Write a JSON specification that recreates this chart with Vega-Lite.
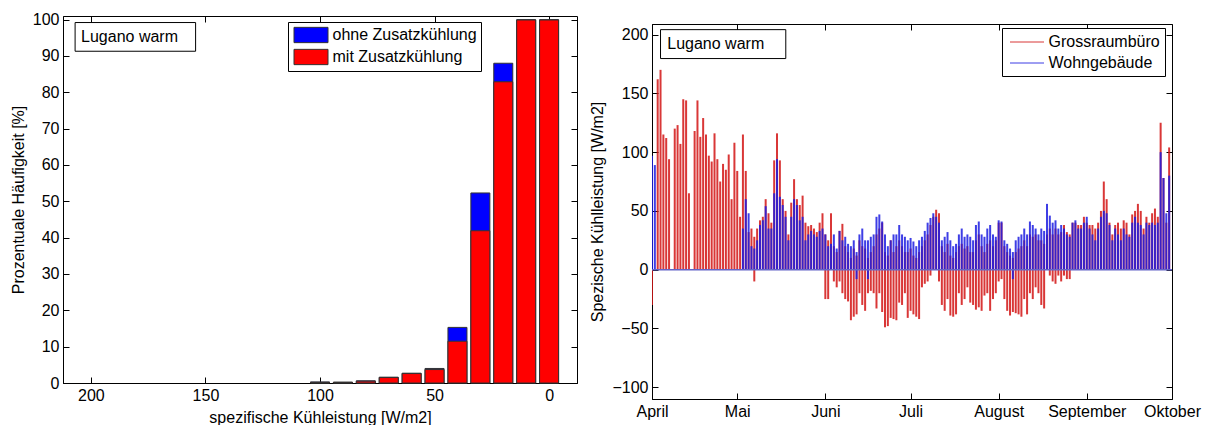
{
"$schema":"https://vega.github.io/schema/vega-lite/v6.json",
"background":"white",
"padding":{"left":9,"top":11,"right":5,"bottom":2},
"spacing":11,
"resolve":{"scale":{"color":"independent"},"legend":{"color":"independent"}},
"config":{
 "font":"Liberation Sans",
 "view":{"stroke":"#000","strokeWidth":1},
 "axis":{"grid":false,"domainColor":"#000","tickColor":"#000","labelColor":"#000","titleColor":"#000","labelFontSize":16,"titleFontSize":16,"titleFontWeight":"normal","tickSize":-6,"labelPadding":10,"labelFlush":false,"labelOverlap":false,"titlePadding":6},
 "legend":{"labelFontSize":16,"labelColor":"#000"}
},
"hconcat":[
{
 "width":514,"height":367,
 "resolve":{"axis":{"x":"independent","y":"independent"}},
 "data":{"values":[
  {"kuehlleistung":0,"variante":"ohne Zusatzkühlung","haeufigkeit":100},
  {"kuehlleistung":10,"variante":"ohne Zusatzkühlung","haeufigkeit":100},
  {"kuehlleistung":20,"variante":"ohne Zusatzkühlung","haeufigkeit":88.0},
  {"kuehlleistung":30,"variante":"ohne Zusatzkühlung","haeufigkeit":52.3},
  {"kuehlleistung":40,"variante":"ohne Zusatzkühlung","haeufigkeit":15.3},
  {"kuehlleistung":50,"variante":"ohne Zusatzkühlung","haeufigkeit":4.0},
  {"kuehlleistung":60,"variante":"ohne Zusatzkühlung","haeufigkeit":2.7},
  {"kuehlleistung":70,"variante":"ohne Zusatzkühlung","haeufigkeit":1.6},
  {"kuehlleistung":80,"variante":"ohne Zusatzkühlung","haeufigkeit":0.6},
  {"kuehlleistung":90,"variante":"ohne Zusatzkühlung","haeufigkeit":0.25},
  {"kuehlleistung":100,"variante":"ohne Zusatzkühlung","haeufigkeit":0.3},
  {"kuehlleistung":0,"variante":"mit Zusatzkühlung","haeufigkeit":99.9},
  {"kuehlleistung":10,"variante":"mit Zusatzkühlung","haeufigkeit":99.9},
  {"kuehlleistung":20,"variante":"mit Zusatzkühlung","haeufigkeit":82.9},
  {"kuehlleistung":30,"variante":"mit Zusatzkühlung","haeufigkeit":41.9},
  {"kuehlleistung":40,"variante":"mit Zusatzkühlung","haeufigkeit":11.5},
  {"kuehlleistung":50,"variante":"mit Zusatzkühlung","haeufigkeit":3.7},
  {"kuehlleistung":60,"variante":"mit Zusatzkühlung","haeufigkeit":2.6},
  {"kuehlleistung":70,"variante":"mit Zusatzkühlung","haeufigkeit":1.5},
  {"kuehlleistung":80,"variante":"mit Zusatzkühlung","haeufigkeit":0.5},
  {"kuehlleistung":90,"variante":"mit Zusatzkühlung","haeufigkeit":0.15},
  {"kuehlleistung":100,"variante":"mit Zusatzkühlung","haeufigkeit":0.15}
 ]},
 "layer":[
  {"mark":{"type":"bar","orient":"vertical","width":19,"stroke":"#333333","strokeWidth":1},
   "encoding":{
    "x":{"field":"kuehlleistung","type":"quantitative","scale":{"domain":[-10,210],"reverse":true,"nice":false,"zero":false},"axis":{"values":[0,50,100,150,200],"tickCount":12,"title":"spezifische Kühleistung [W/m2]"}},
    "y":{"field":"haeufigkeit","type":"quantitative","stack":null,"scale":{"domain":[0,101],"nice":false},"axis":{"values":[0,10,20,30,40,50,60,70,80,90,100],"tickCount":12,"title":"Prozentuale Häufigkeit [%]"}},
    "color":{"field":"variante","type":"nominal","scale":{"domain":["ohne Zusatzkühlung","mit Zusatzkühlung"],"range":["#0000ff","#ff0000"]},
     "legend":{"title":null,"orient":"none","legendX":225,"legendY":6,"strokeColor":"#000","fillColor":"#fff","padding":4,"symbolType":"M-2,-0.9H2V0.9H-2Z","symbolSize":289,"symbolOffset":10,"symbolStrokeColor":"#333","symbolStrokeWidth":1,"symbolOpacity":1,"labelFontSize":16,"labelOffset":12.5,"rowPadding":2}}
   }},
  {"data":{"values":[{"ort":"Lugano warm"}]},
   "layer":[
    {"mark":{"type":"rect","fill":"#fff","stroke":"#000","strokeWidth":1},
     "encoding":{
      "x":{"datum":206.9,"type":"quantitative","axis":{"orient":"top","labels":false,"title":null,"domain":false,"values":[0,50,100,150,200],"tickCount":12}},
      "x2":{"datum":154.3},
      "y":{"datum":99.2,"type":"quantitative","axis":{"orient":"right","labels":false,"title":null,"domain":false,"values":[0,10,20,30,40,50,60,70,80,90,100],"tickCount":12}},
      "y2":{"datum":91.3}}},
    {"mark":{"type":"text","align":"left","baseline":"middle","fontSize":16,"color":"#000"},
     "encoding":{"text":{"field":"ort"},
      "x":{"datum":204.3,"type":"quantitative","axis":{"orient":"top","labels":false,"title":null,"domain":false,"values":[0,50,100,150,200],"tickCount":12}},
      "y":{"datum":95.3,"type":"quantitative","axis":{"orient":"right","labels":false,"title":null,"domain":false,"values":[0,10,20,30,40,50,60,70,80,90,100],"tickCount":12}}}}
   ]}
 ]
},
{
 "spacing":6,
 "vconcat":[
 {"width":520,"height":1,"view":{"stroke":null},
  "data":{"values":[{"leer":0}]},
  "mark":{"type":"point","opacity":0,"size":0},
  "encoding":{}},
 {
 "width":520,"height":375,
 "resolve":{"axis":{"x":"independent","y":"independent"}},
 "layer":[
  {"data":{"values":[
{"datum":"2001-04-01","buero":0,"buero_min":-30,"wohn":97,"wohn_min":0},
{"datum":"2001-04-02","buero":0,"buero_min":0,"wohn":89,"wohn_min":0},
{"datum":"2001-04-03","buero":162,"buero_min":0,"wohn":0,"wohn_min":0},
{"datum":"2001-04-04","buero":170,"buero_min":0,"wohn":0,"wohn_min":0},
{"datum":"2001-04-05","buero":115,"buero_min":0,"wohn":0,"wohn_min":0},
{"datum":"2001-04-06","buero":112,"buero_min":0,"wohn":0,"wohn_min":0},
{"datum":"2001-04-07","buero":94,"buero_min":0,"wohn":0,"wohn_min":0},
{"datum":"2001-04-08","buero":0,"buero_min":0,"wohn":0,"wohn_min":0},
{"datum":"2001-04-09","buero":120,"buero_min":0,"wohn":0,"wohn_min":0},
{"datum":"2001-04-10","buero":123,"buero_min":0,"wohn":0,"wohn_min":0},
{"datum":"2001-04-11","buero":107,"buero_min":0,"wohn":0,"wohn_min":0},
{"datum":"2001-04-12","buero":145,"buero_min":0,"wohn":0,"wohn_min":0},
{"datum":"2001-04-13","buero":144,"buero_min":0,"wohn":0,"wohn_min":0},
{"datum":"2001-04-14","buero":65,"buero_min":0,"wohn":0,"wohn_min":0},
{"datum":"2001-04-15","buero":0,"buero_min":0,"wohn":0,"wohn_min":0},
{"datum":"2001-04-16","buero":118,"buero_min":0,"wohn":0,"wohn_min":0},
{"datum":"2001-04-17","buero":144,"buero_min":0,"wohn":0,"wohn_min":0},
{"datum":"2001-04-18","buero":113,"buero_min":0,"wohn":0,"wohn_min":0},
{"datum":"2001-04-19","buero":129,"buero_min":0,"wohn":0,"wohn_min":0},
{"datum":"2001-04-20","buero":115,"buero_min":0,"wohn":0,"wohn_min":0},
{"datum":"2001-04-21","buero":97,"buero_min":0,"wohn":0,"wohn_min":0},
{"datum":"2001-04-22","buero":92,"buero_min":0,"wohn":0,"wohn_min":0},
{"datum":"2001-04-23","buero":116,"buero_min":0,"wohn":0,"wohn_min":0},
{"datum":"2001-04-24","buero":94,"buero_min":0,"wohn":0,"wohn_min":0},
{"datum":"2001-04-25","buero":75,"buero_min":0,"wohn":0,"wohn_min":0},
{"datum":"2001-04-26","buero":90,"buero_min":0,"wohn":0,"wohn_min":0},
{"datum":"2001-04-27","buero":85,"buero_min":0,"wohn":0,"wohn_min":0},
{"datum":"2001-04-28","buero":98,"buero_min":0,"wohn":0,"wohn_min":0},
{"datum":"2001-04-29","buero":60,"buero_min":0,"wohn":0,"wohn_min":0},
{"datum":"2001-04-30","buero":108,"buero_min":0,"wohn":0,"wohn_min":0},
{"datum":"2001-05-01","buero":84,"buero_min":0,"wohn":0,"wohn_min":0},
{"datum":"2001-05-02","buero":45,"buero_min":0,"wohn":0,"wohn_min":0},
{"datum":"2001-05-03","buero":115,"buero_min":0,"wohn":35,"wohn_min":0},
{"datum":"2001-05-04","buero":84,"buero_min":0,"wohn":60,"wohn_min":0},
{"datum":"2001-05-05","buero":32,"buero_min":0,"wohn":48,"wohn_min":0},
{"datum":"2001-05-06","buero":35,"buero_min":0,"wohn":20,"wohn_min":0},
{"datum":"2001-05-07","buero":28,"buero_min":-10,"wohn":18,"wohn_min":0},
{"datum":"2001-05-08","buero":35,"buero_min":0,"wohn":25,"wohn_min":0},
{"datum":"2001-05-09","buero":42,"buero_min":0,"wohn":38,"wohn_min":0},
{"datum":"2001-05-10","buero":45,"buero_min":0,"wohn":42,"wohn_min":0},
{"datum":"2001-05-11","buero":60,"buero_min":0,"wohn":54,"wohn_min":0},
{"datum":"2001-05-12","buero":48,"buero_min":0,"wohn":35,"wohn_min":0},
{"datum":"2001-05-13","buero":40,"buero_min":0,"wohn":35,"wohn_min":0},
{"datum":"2001-05-14","buero":93,"buero_min":0,"wohn":65,"wohn_min":0},
{"datum":"2001-05-15","buero":116,"buero_min":0,"wohn":94,"wohn_min":0},
{"datum":"2001-05-16","buero":93,"buero_min":0,"wohn":62,"wohn_min":0},
{"datum":"2001-05-17","buero":60,"buero_min":0,"wohn":55,"wohn_min":0},
{"datum":"2001-05-18","buero":50,"buero_min":0,"wohn":45,"wohn_min":0},
{"datum":"2001-05-19","buero":30,"buero_min":0,"wohn":25,"wohn_min":0},
{"datum":"2001-05-20","buero":57,"buero_min":0,"wohn":45,"wohn_min":0},
{"datum":"2001-05-21","buero":77,"buero_min":0,"wohn":60,"wohn_min":0},
{"datum":"2001-05-22","buero":60,"buero_min":0,"wohn":55,"wohn_min":0},
{"datum":"2001-05-23","buero":55,"buero_min":0,"wohn":42,"wohn_min":0},
{"datum":"2001-05-24","buero":63,"buero_min":0,"wohn":45,"wohn_min":0},
{"datum":"2001-05-25","buero":40,"buero_min":0,"wohn":25,"wohn_min":0},
{"datum":"2001-05-26","buero":37,"buero_min":0,"wohn":30,"wohn_min":0},
{"datum":"2001-05-27","buero":38,"buero_min":0,"wohn":33,"wohn_min":0},
{"datum":"2001-05-28","buero":35,"buero_min":0,"wohn":30,"wohn_min":0},
{"datum":"2001-05-29","buero":32,"buero_min":0,"wohn":28,"wohn_min":0},
{"datum":"2001-05-30","buero":40,"buero_min":0,"wohn":33,"wohn_min":0},
{"datum":"2001-05-31","buero":48,"buero_min":0,"wohn":35,"wohn_min":0},
{"datum":"2001-06-01","buero":30,"buero_min":-25,"wohn":30,"wohn_min":0},
{"datum":"2001-06-02","buero":25,"buero_min":-25,"wohn":20,"wohn_min":0},
{"datum":"2001-06-03","buero":48,"buero_min":0,"wohn":22,"wohn_min":0},
{"datum":"2001-06-04","buero":20,"buero_min":-10,"wohn":30,"wohn_min":0},
{"datum":"2001-06-05","buero":15,"buero_min":-15,"wohn":18,"wohn_min":0},
{"datum":"2001-06-06","buero":33,"buero_min":-10,"wohn":33,"wohn_min":0},
{"datum":"2001-06-07","buero":39,"buero_min":-20,"wohn":25,"wohn_min":0},
{"datum":"2001-06-08","buero":20,"buero_min":-25,"wohn":28,"wohn_min":0},
{"datum":"2001-06-09","buero":15,"buero_min":-27,"wohn":22,"wohn_min":0},
{"datum":"2001-06-10","buero":10,"buero_min":-43,"wohn":20,"wohn_min":0},
{"datum":"2001-06-11","buero":18,"buero_min":-40,"wohn":25,"wohn_min":0},
{"datum":"2001-06-12","buero":12,"buero_min":-38,"wohn":15,"wohn_min":-8},
{"datum":"2001-06-13","buero":25,"buero_min":-20,"wohn":30,"wohn_min":0},
{"datum":"2001-06-14","buero":20,"buero_min":-30,"wohn":35,"wohn_min":0},
{"datum":"2001-06-15","buero":18,"buero_min":-35,"wohn":25,"wohn_min":0},
{"datum":"2001-06-16","buero":10,"buero_min":-20,"wohn":25,"wohn_min":-8},
{"datum":"2001-06-17","buero":15,"buero_min":-18,"wohn":28,"wohn_min":0},
{"datum":"2001-06-18","buero":20,"buero_min":-20,"wohn":30,"wohn_min":0},
{"datum":"2001-06-19","buero":30,"buero_min":-33,"wohn":45,"wohn_min":0},
{"datum":"2001-06-20","buero":35,"buero_min":-20,"wohn":47,"wohn_min":0},
{"datum":"2001-06-21","buero":40,"buero_min":-36,"wohn":41,"wohn_min":0},
{"datum":"2001-06-22","buero":15,"buero_min":-49,"wohn":30,"wohn_min":0},
{"datum":"2001-06-23","buero":12,"buero_min":-48,"wohn":20,"wohn_min":0},
{"datum":"2001-06-24","buero":25,"buero_min":-41,"wohn":25,"wohn_min":0},
{"datum":"2001-06-25","buero":15,"buero_min":-42,"wohn":30,"wohn_min":0},
{"datum":"2001-06-26","buero":20,"buero_min":-43,"wohn":30,"wohn_min":0},
{"datum":"2001-06-27","buero":25,"buero_min":-28,"wohn":38,"wohn_min":0},
{"datum":"2001-06-28","buero":20,"buero_min":-30,"wohn":30,"wohn_min":0},
{"datum":"2001-06-29","buero":15,"buero_min":-20,"wohn":28,"wohn_min":0},
{"datum":"2001-06-30","buero":15,"buero_min":-41,"wohn":25,"wohn_min":0},
{"datum":"2001-07-01","buero":18,"buero_min":-35,"wohn":27,"wohn_min":0},
{"datum":"2001-07-02","buero":12,"buero_min":-38,"wohn":24,"wohn_min":0},
{"datum":"2001-07-03","buero":10,"buero_min":-40,"wohn":20,"wohn_min":0},
{"datum":"2001-07-04","buero":15,"buero_min":-42,"wohn":25,"wohn_min":0},
{"datum":"2001-07-05","buero":20,"buero_min":-15,"wohn":28,"wohn_min":0},
{"datum":"2001-07-06","buero":25,"buero_min":-12,"wohn":33,"wohn_min":0},
{"datum":"2001-07-07","buero":30,"buero_min":-10,"wohn":40,"wohn_min":0},
{"datum":"2001-07-08","buero":38,"buero_min":-5,"wohn":44,"wohn_min":0},
{"datum":"2001-07-09","buero":45,"buero_min":0,"wohn":48,"wohn_min":0},
{"datum":"2001-07-10","buero":51,"buero_min":0,"wohn":45,"wohn_min":0},
{"datum":"2001-07-11","buero":48,"buero_min":-10,"wohn":40,"wohn_min":0},
{"datum":"2001-07-12","buero":20,"buero_min":-30,"wohn":25,"wohn_min":0},
{"datum":"2001-07-13","buero":15,"buero_min":-35,"wohn":28,"wohn_min":0},
{"datum":"2001-07-14","buero":22,"buero_min":-25,"wohn":32,"wohn_min":0},
{"datum":"2001-07-15","buero":12,"buero_min":-39,"wohn":25,"wohn_min":0},
{"datum":"2001-07-16","buero":10,"buero_min":-40,"wohn":20,"wohn_min":0},
{"datum":"2001-07-17","buero":15,"buero_min":-38,"wohn":22,"wohn_min":0},
{"datum":"2001-07-18","buero":20,"buero_min":-20,"wohn":30,"wohn_min":0},
{"datum":"2001-07-19","buero":22,"buero_min":-30,"wohn":35,"wohn_min":0},
{"datum":"2001-07-20","buero":18,"buero_min":-25,"wohn":28,"wohn_min":0},
{"datum":"2001-07-21","buero":20,"buero_min":-15,"wohn":30,"wohn_min":0},
{"datum":"2001-07-22","buero":15,"buero_min":-28,"wohn":28,"wohn_min":0},
{"datum":"2001-07-23","buero":15,"buero_min":-30,"wohn":25,"wohn_min":0},
{"datum":"2001-07-24","buero":25,"buero_min":-34,"wohn":38,"wohn_min":0},
{"datum":"2001-07-25","buero":30,"buero_min":-32,"wohn":41,"wohn_min":0},
{"datum":"2001-07-26","buero":20,"buero_min":-35,"wohn":30,"wohn_min":0},
{"datum":"2001-07-27","buero":15,"buero_min":-22,"wohn":28,"wohn_min":0},
{"datum":"2001-07-28","buero":22,"buero_min":-20,"wohn":35,"wohn_min":0},
{"datum":"2001-07-29","buero":25,"buero_min":-35,"wohn":38,"wohn_min":0},
{"datum":"2001-07-30","buero":20,"buero_min":-25,"wohn":30,"wohn_min":0},
{"datum":"2001-07-31","buero":25,"buero_min":-20,"wohn":28,"wohn_min":0},
{"datum":"2001-08-01","buero":40,"buero_min":-10,"wohn":42,"wohn_min":0},
{"datum":"2001-08-02","buero":40,"buero_min":-8,"wohn":41,"wohn_min":0},
{"datum":"2001-08-03","buero":20,"buero_min":-25,"wohn":25,"wohn_min":0},
{"datum":"2001-08-04","buero":15,"buero_min":-35,"wohn":22,"wohn_min":0},
{"datum":"2001-08-05","buero":12,"buero_min":-39,"wohn":18,"wohn_min":0},
{"datum":"2001-08-06","buero":10,"buero_min":-36,"wohn":15,"wohn_min":-8},
{"datum":"2001-08-07","buero":15,"buero_min":-37,"wohn":25,"wohn_min":0},
{"datum":"2001-08-08","buero":18,"buero_min":-38,"wohn":28,"wohn_min":0},
{"datum":"2001-08-09","buero":20,"buero_min":-40,"wohn":30,"wohn_min":0},
{"datum":"2001-08-10","buero":25,"buero_min":-25,"wohn":35,"wohn_min":0},
{"datum":"2001-08-11","buero":20,"buero_min":-38,"wohn":30,"wohn_min":0},
{"datum":"2001-08-12","buero":30,"buero_min":-20,"wohn":41,"wohn_min":0},
{"datum":"2001-08-13","buero":28,"buero_min":-25,"wohn":38,"wohn_min":0},
{"datum":"2001-08-14","buero":30,"buero_min":-15,"wohn":35,"wohn_min":0},
{"datum":"2001-08-15","buero":25,"buero_min":-20,"wohn":30,"wohn_min":0},
{"datum":"2001-08-16","buero":25,"buero_min":-30,"wohn":35,"wohn_min":0},
{"datum":"2001-08-17","buero":22,"buero_min":-33,"wohn":33,"wohn_min":0},
{"datum":"2001-08-18","buero":30,"buero_min":0,"wohn":56,"wohn_min":0},
{"datum":"2001-08-19","buero":35,"buero_min":-5,"wohn":46,"wohn_min":0},
{"datum":"2001-08-20","buero":30,"buero_min":-10,"wohn":40,"wohn_min":0},
{"datum":"2001-08-21","buero":35,"buero_min":-12,"wohn":42,"wohn_min":0},
{"datum":"2001-08-22","buero":30,"buero_min":-5,"wohn":35,"wohn_min":0},
{"datum":"2001-08-23","buero":32,"buero_min":-10,"wohn":38,"wohn_min":0},
{"datum":"2001-08-24","buero":38,"buero_min":-5,"wohn":35,"wohn_min":0},
{"datum":"2001-08-25","buero":32,"buero_min":-8,"wohn":30,"wohn_min":0},
{"datum":"2001-08-26","buero":30,"buero_min":-8,"wohn":28,"wohn_min":0},
{"datum":"2001-08-27","buero":40,"buero_min":0,"wohn":40,"wohn_min":0},
{"datum":"2001-08-28","buero":40,"buero_min":0,"wohn":42,"wohn_min":0},
{"datum":"2001-08-29","buero":38,"buero_min":0,"wohn":35,"wohn_min":0},
{"datum":"2001-08-30","buero":38,"buero_min":0,"wohn":35,"wohn_min":0},
{"datum":"2001-08-31","buero":45,"buero_min":0,"wohn":40,"wohn_min":0},
{"datum":"2001-09-01","buero":40,"buero_min":0,"wohn":45,"wohn_min":0},
{"datum":"2001-09-02","buero":38,"buero_min":0,"wohn":35,"wohn_min":0},
{"datum":"2001-09-03","buero":38,"buero_min":0,"wohn":30,"wohn_min":0},
{"datum":"2001-09-04","buero":35,"buero_min":0,"wohn":25,"wohn_min":0},
{"datum":"2001-09-05","buero":40,"buero_min":0,"wohn":35,"wohn_min":0},
{"datum":"2001-09-06","buero":50,"buero_min":0,"wohn":45,"wohn_min":0},
{"datum":"2001-09-07","buero":75,"buero_min":0,"wohn":50,"wohn_min":0},
{"datum":"2001-09-08","buero":60,"buero_min":0,"wohn":48,"wohn_min":0},
{"datum":"2001-09-09","buero":40,"buero_min":0,"wohn":38,"wohn_min":0},
{"datum":"2001-09-10","buero":30,"buero_min":0,"wohn":25,"wohn_min":0},
{"datum":"2001-09-11","buero":38,"buero_min":0,"wohn":35,"wohn_min":0},
{"datum":"2001-09-12","buero":40,"buero_min":0,"wohn":30,"wohn_min":0},
{"datum":"2001-09-13","buero":35,"buero_min":0,"wohn":25,"wohn_min":0},
{"datum":"2001-09-14","buero":42,"buero_min":0,"wohn":35,"wohn_min":0},
{"datum":"2001-09-15","buero":40,"buero_min":0,"wohn":30,"wohn_min":0},
{"datum":"2001-09-16","buero":30,"buero_min":0,"wohn":28,"wohn_min":0},
{"datum":"2001-09-17","buero":47,"buero_min":0,"wohn":40,"wohn_min":0},
{"datum":"2001-09-18","buero":50,"buero_min":0,"wohn":45,"wohn_min":0},
{"datum":"2001-09-19","buero":56,"buero_min":0,"wohn":40,"wohn_min":0},
{"datum":"2001-09-20","buero":50,"buero_min":0,"wohn":38,"wohn_min":0},
{"datum":"2001-09-21","buero":35,"buero_min":0,"wohn":30,"wohn_min":0},
{"datum":"2001-09-22","buero":45,"buero_min":0,"wohn":40,"wohn_min":0},
{"datum":"2001-09-23","buero":40,"buero_min":0,"wohn":38,"wohn_min":0},
{"datum":"2001-09-24","buero":48,"buero_min":0,"wohn":40,"wohn_min":0},
{"datum":"2001-09-25","buero":52,"buero_min":0,"wohn":38,"wohn_min":0},
{"datum":"2001-09-26","buero":45,"buero_min":0,"wohn":40,"wohn_min":0},
{"datum":"2001-09-27","buero":125,"buero_min":0,"wohn":100,"wohn_min":0},
{"datum":"2001-09-28","buero":78,"buero_min":0,"wohn":78,"wohn_min":0},
{"datum":"2001-09-29","buero":40,"buero_min":0,"wohn":48,"wohn_min":0},
{"datum":"2001-09-30","buero":104,"buero_min":0,"wohn":80,"wohn_min":0}
  ]},
  "layer":[
   {"mark":{"type":"rule","strokeWidth":2,"opacity":0.85,"clip":true},
    "encoding":{
     "x":{"field":"datum","type":"temporal","scale":{"type":"utc","domain":[{"year":2001,"month":4,"date":1,"utc":true},{"year":2001,"month":10,"date":1,"utc":true}]},
      "axis":{"title":null,"values":[{"year":2001,"month":4,"date":1,"utc":true},{"year":2001,"month":5,"date":1,"utc":true},{"year":2001,"month":6,"date":1,"utc":true},{"year":2001,"month":7,"date":1,"utc":true},{"year":2001,"month":8,"date":1,"utc":true},{"year":2001,"month":9,"date":1,"utc":true},{"year":2001,"month":10,"date":1,"utc":true}],"tickCount":14,
       "labelExpr":"['Januar','Februar','März','April','Mai','Juni','Juli','August','September','Oktober','November','Dezember'][utcmonth(datum.value)]"}},
     "y":{"field":"buero_min","type":"quantitative","scale":{"domain":[-110,209],"nice":false,"zero":false},"axis":{"values":[-100,-50,0,50,100,150,200],"tickCount":12,"title":"Spezische Kühlleistung [W/m2]"}},
     "y2":{"field":"buero"},
     "color":{"datum":"Grossraumbüro","type":"nominal","scale":{"domain":["Grossraumbüro","Wohngebäude"],"range":["#d21414","#1c1ce0"]},
      "legend":{"title":null,"orient":"none","legendX":350,"legendY":12,"strokeColor":"#000","fillColor":"#fff","padding":5,"symbolType":"M-2,0H2","symbolSize":289,"symbolOffset":11,"symbolStrokeWidth":1,"labelFontSize":16,"labelOffset":12.5,"rowPadding":4}}
    }},
   {"mark":{"type":"rule","strokeWidth":2,"opacity":0.85,"clip":true},
    "encoding":{
     "x":{"field":"datum","type":"temporal"},
     "y":{"field":"wohn_min","type":"quantitative"},
     "y2":{"field":"wohn"},
     "color":{"datum":"Wohngebäude","type":"nominal"}
    }}
  ]},
  {"data":{"values":[{"ort":"Lugano warm","nulllinie":0}]},
   "layer":[
    {"mark":{"type":"rule","color":"#6464c8","strokeWidth":1.5},
     "encoding":{"y":{"field":"nulllinie","type":"quantitative","axis":{"orient":"right","labels":false,"title":null,"domain":false,"values":[-100,-50,0,50,100,150,200],"tickCount":12}}}},
    {"mark":{"type":"rect","fill":"#fff","stroke":"#000","strokeWidth":1},
     "encoding":{
      "x":{"datum":{"year":2001,"month":4,"date":4,"utc":true},"type":"temporal","axis":{"orient":"top","labels":false,"title":null,"domain":false,"tickCount":14,"values":[{"year":2001,"month":4,"date":1,"utc":true},{"year":2001,"month":5,"date":1,"utc":true},{"year":2001,"month":6,"date":1,"utc":true},{"year":2001,"month":7,"date":1,"utc":true},{"year":2001,"month":8,"date":1,"utc":true},{"year":2001,"month":9,"date":1,"utc":true},{"year":2001,"month":10,"date":1,"utc":true}]}},
      "x2":{"datum":{"year":2001,"month":5,"date":18,"hours":2,"utc":true}},
      "y":{"datum":204.2,"type":"quantitative","axis":{"orient":"right","labels":false,"title":null,"domain":false,"values":[-100,-50,0,50,100,150,200],"tickCount":12}},
      "y2":{"datum":179.6}}},
    {"mark":{"type":"text","align":"left","baseline":"middle","fontSize":16,"color":"#000"},
     "encoding":{"text":{"field":"ort"},
      "x":{"datum":{"year":2001,"month":4,"date":6,"hours":9,"utc":true},"type":"temporal","axis":{"orient":"top","labels":false,"title":null,"domain":false,"tickCount":14,"values":[{"year":2001,"month":4,"date":1,"utc":true},{"year":2001,"month":5,"date":1,"utc":true},{"year":2001,"month":6,"date":1,"utc":true},{"year":2001,"month":7,"date":1,"utc":true},{"year":2001,"month":8,"date":1,"utc":true},{"year":2001,"month":9,"date":1,"utc":true},{"year":2001,"month":10,"date":1,"utc":true}]}},
      "y":{"datum":192,"type":"quantitative","axis":{"orient":"right","labels":false,"title":null,"domain":false,"values":[-100,-50,0,50,100,150,200],"tickCount":12}}}}
   ]}
 ]
 }
 ]
}
]
}
